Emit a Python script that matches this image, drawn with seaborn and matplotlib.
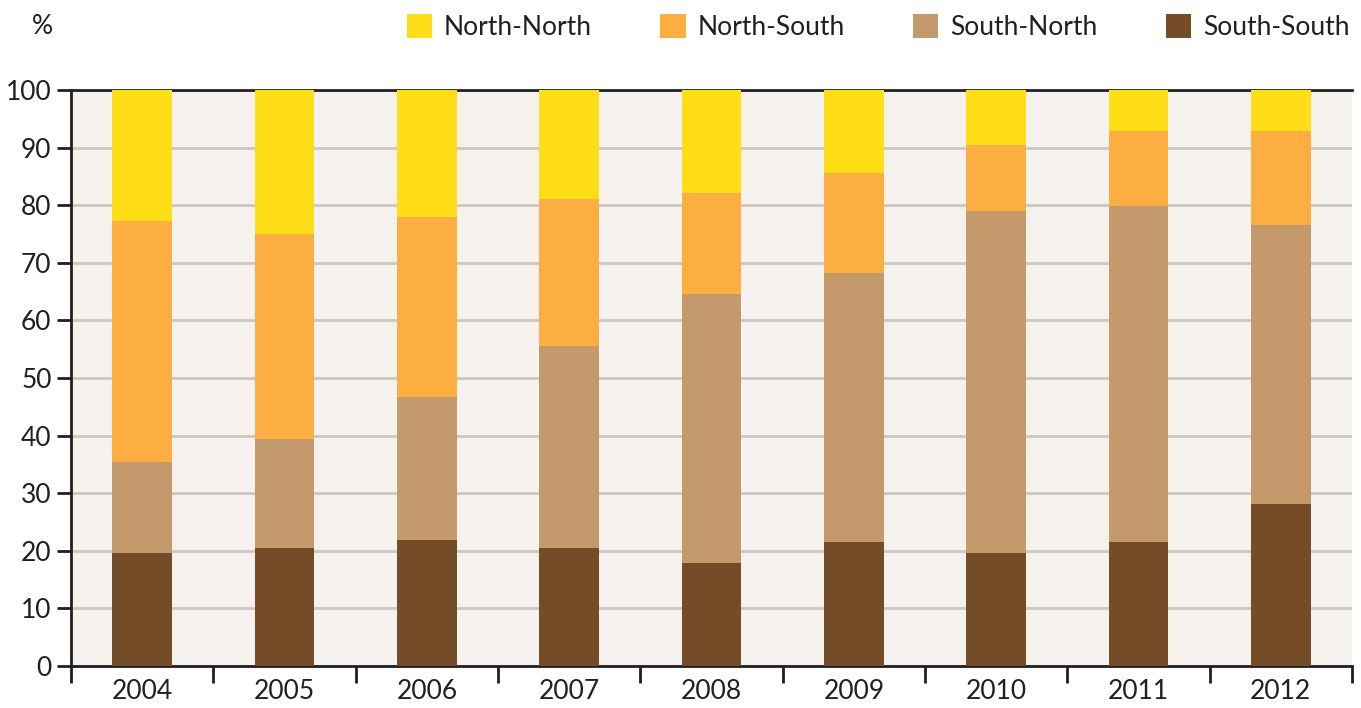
import numpy as np
import pandas as pd
import matplotlib
matplotlib.use("Agg")
import matplotlib.pyplot as plt
import seaborn as sns
from matplotlib.patches import Patch

years = ["2004", "2005", "2006", "2007", "2008", "2009", "2010", "2011", "2012"]
south_south = [19.6, 20.5, 21.9, 20.5, 17.8, 21.5, 19.6, 21.5, 28.1]
south_north = [15.8, 18.9, 24.8, 35.0, 46.7, 46.7, 59.3, 58.3, 48.5]
north_south = [41.8, 35.6, 31.3, 25.6, 17.6, 17.3, 11.6, 13.0, 16.2]
north_north = [22.8, 25.0, 22.0, 18.9, 17.9, 14.5, 9.5, 7.2, 7.2]

series = ["North-North", "North-South", "South-North", "South-South"]
colors = {"North-North": "#FFDD17", "North-South": "#FCAF40",
          "South-North": "#C49A6C", "South-South": "#754C28"}

df = pd.DataFrame({"year": years, "South-South": south_south,
                   "South-North": south_north, "North-South": north_south,
                   "North-North": north_north})
# cumulative tops, bottom to top
stack = ["South-South", "South-North", "North-South", "North-North"]
cum = df[stack].cumsum(axis=1)

sns.set_style("white")
plt.rcParams['font.family'] = ['Lato', 'DejaVu Sans']

fig = plt.figure(figsize=(13.61, 7.08), dpi=100)
ax = fig.add_axes([0.0522, 0.0593, 0.9412, 0.8137])
ax.set_facecolor("#F5F1ED")

# draw tallest first so shorter stacks sit on top
for s in reversed(stack):
    sns.barplot(x=df["year"], y=cum[s], color=colors[s], width=0.42,
                saturation=1, ax=ax, zorder=3, linewidth=0, edgecolor="none")

ax.set_ylim(0, 100)
ax.set_xlim(-0.5, len(years) - 0.5)
ax.set_yticks(range(0, 101, 10))
ax.yaxis.grid(True, color="#CDC7C2", linewidth=2, zorder=0)
ax.set_axisbelow(True)
ax.set_xlabel("")
ax.set_ylabel("")

for side in ["top", "left", "bottom"]:
    ax.spines[side].set_color("#231F20")
    ax.spines[side].set_linewidth(2)
ax.spines["right"].set_visible(False)

ax.tick_params(axis="y", left=True, length=10, width=2, color="#231F20",
               labelsize=19, labelcolor="#231F20", pad=4)
ax.tick_params(axis="x", which="major", length=0, labelsize=19,
               labelcolor="#231F20", pad=9)
ax.set_xticks(np.arange(-0.5, len(years), 1), minor=True)
ax.tick_params(axis="x", which="minor", bottom=True, length=12, width=2,
               color="#231F20")

fig.text(0.031, 0.962, "%", fontsize=19, color="#231F20", ha="center", va="center")

handles = [Patch(facecolor=colors[s], edgecolor="none") for s in series]
fig.legend(handles, series, loc="center right", bbox_to_anchor=(1.009, 0.962),
           ncol=4, frameon=False, fontsize=19, handlelength=0.95,
           handleheight=1.0, handletextpad=0.45, columnspacing=2.6,
           labelcolor="#231F20")

fig.savefig("out.png", dpi=100)
